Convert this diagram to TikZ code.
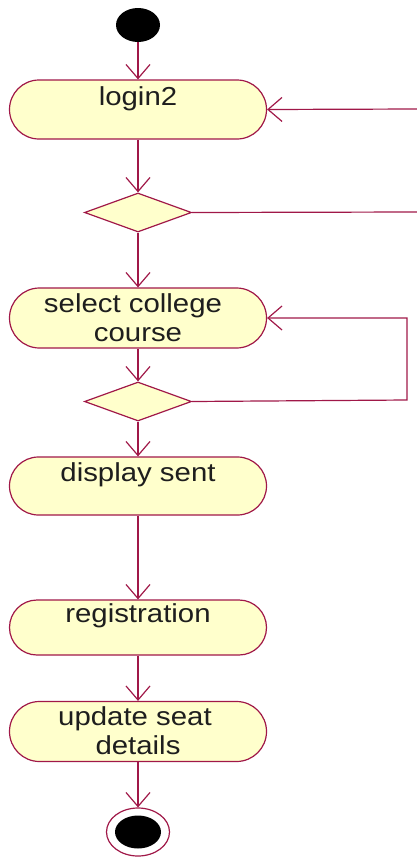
\documentclass[tikz,border=0pt]{standalone}
\usepackage{fontspec}
\setmainfont{Liberation Sans}
\usetikzlibrary{shapes.geometric,shapes.misc,arrows.meta}
\definecolor{edge}{RGB}{160,24,72}
\definecolor{boxfill}{RGB}{255,255,204}
\definecolor{txtc}{RGB}{30,30,30}
\tikzset{
  action/.style={rounded rectangle, draw=edge, fill=boxfill, line width=1.2pt, minimum width=257pt, inner sep=0pt},
  decision/.style={diamond, draw=edge, fill=boxfill, line width=1.2pt, minimum width=107pt, minimum height=39pt, inner sep=0pt},
  txt/.style={anchor=base, text=txtc, font=\fontsize{26pt}{29pt}\selectfont, inner sep=0pt},
  flow/.style={draw=edge, line width=1.2pt, -{Straight Barb[length=14pt,width=24pt,line width=1.2pt]}},
  plain/.style={draw=edge, line width=1.2pt}
}
\newcommand{\sx}[1]{\scalebox{1.13}[1]{#1}}
\begin{document}
\begin{tikzpicture}[x=1pt,y=-1pt]
\useasboundingbox (0,0) rectangle (417,857);
% start
\node[ellipse, fill=black, minimum width=44pt, minimum height=34pt, inner sep=0pt] (start) at (138,25) {};
% actions
\node[action, minimum height=59pt] (login) at (138,109.5) {};
\node[txt] (loginT) at ([yshift=-26pt]login.north) {\sx{login2}};
\node[decision] (d1) at (138,212.5) {};
\node[action, minimum height=60pt] (sel) at (138,318) {};
\node[txt] (selT1) at ([xshift=-5pt,yshift=-25pt]sel.north) {\sx{select college}};
\node[txt] (selT2) at ([yshift=-54.5pt]sel.north) {\sx{course}};
\node[decision] (d2) at (138,401.5) {};
\node[action, minimum height=58pt] (disp) at (138,486) {};
\node[txt] (dispT) at ([yshift=-25pt]disp.north) {\sx{display sent}};
\node[action, minimum height=55pt] (reg) at (138,627.5) {};
\node[txt] (regT) at ([yshift=-23pt]reg.north) {\sx{registration}};
\node[action, minimum height=60pt] (upd) at (138,731.5) {};
\node[txt] (updT1) at ([xshift=-3pt,yshift=-25pt]upd.north) {\sx{update seat}};
\node[txt] (updT2) at ([yshift=-53.5pt]upd.north) {\sx{details}};
% end
\node[ellipse, draw=edge, line width=1.2pt, minimum width=63pt, minimum height=48pt, inner sep=0pt] (endo) at (138,832) {};
\node[ellipse, fill=black, minimum width=46pt, minimum height=33pt, inner sep=0pt] (endi) at (138,832) {};
% off-page loop ends
\coordinate (r1) at (417,212);
\coordinate (r2) at (417,109);
\coordinate (c2) at (407,400);
% connectors
\draw[flow] (start) -- (login);
\draw[flow] (login) -- (d1);
\draw[flow] (d1) -- (sel);
\draw[flow] (sel) -- (d2);
\draw[flow] (d2) -- (disp);
\draw[flow] (disp) -- (reg);
\draw[flow] (reg) -- (upd);
\draw[flow] (upd) -- (endo);
\draw[plain] (d1.east) -- (r1);
\draw[flow] (r2) -- (login.east);
\draw[flow] (d2.east) -- (c2) |- (sel.east);
\end{tikzpicture}
\end{document}
